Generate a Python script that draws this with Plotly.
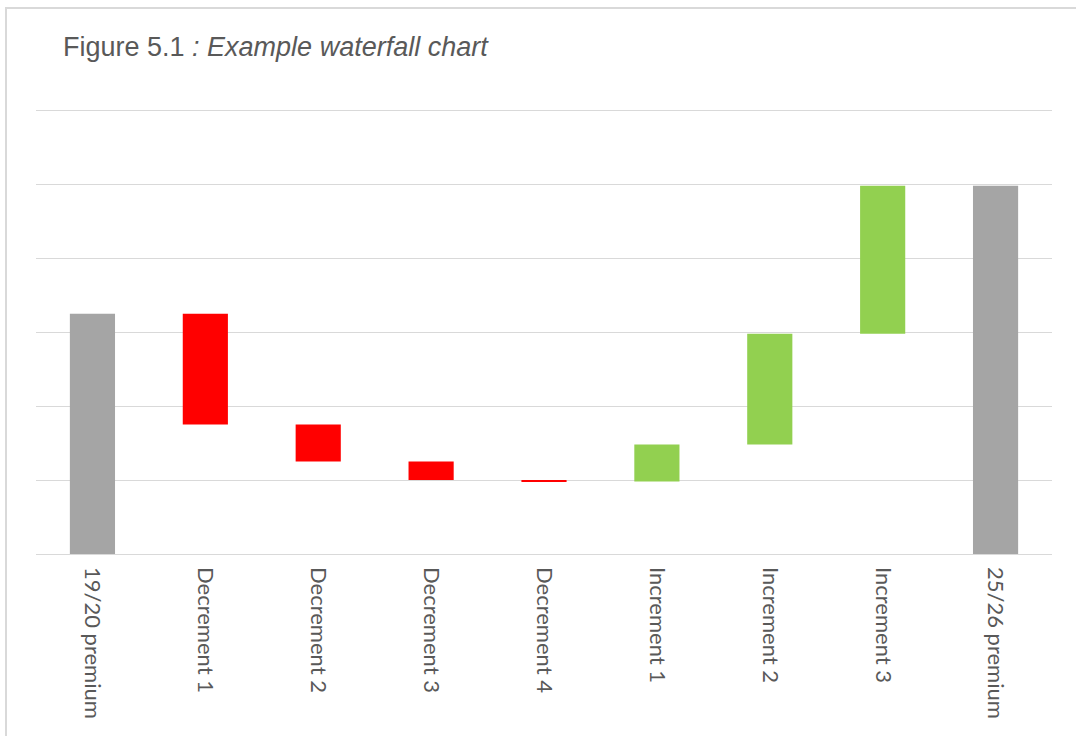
import plotly.graph_objects as go

categories = ["19/20 premium", "Decrement 1", "Decrement 2", "Decrement 3", "Decrement 4",
              "Increment 1", "Increment 2", "Increment 3", "25/26 premium"]
measures = ["absolute", "relative", "relative", "relative", "relative",
            "relative", "relative", "relative", "total"]
values = [3.25, -1.5, -0.5, -0.25, -0.02, 0.5, 1.5, 2.0, 0]
grid_vals = [0, 1, 2, 3, 4, 5, 6]

W, H = 1076, 736
L, R, T, B = 36, 24, 103, 182
pw, ph = W - L - R, H - T - B

def px(x):
    return (x - L) / pw

def py(y):
    return (H - B - y) / ph

fig = go.Figure(go.Waterfall(
    x=categories,
    y=values,
    measure=measures,
    width=0.4,
    connector=dict(visible=False),
    decreasing=dict(marker=dict(color="#FF0000", line=dict(width=0))),
    increasing=dict(marker=dict(color="#92D050", line=dict(width=0))),
    totals=dict(marker=dict(color="#A5A5A5", line=dict(width=0))),
    showlegend=False,
))

fig.update_layout(
    width=W, height=H,
    margin=dict(l=L, r=R, t=T, b=B, pad=0),
    paper_bgcolor="white",
    plot_bgcolor="white",
    title=dict(
        text="Figure 5.1 <i>: Example waterfall chart</i>",
        font=dict(family="Liberation Sans, Arial", size=27, color="#595959"),
        xref="container", yref="container",
        x=63 / W, xanchor="left",
        y=1 - 47 / H, yanchor="middle",
    ),
    xaxis=dict(
        tickangle=90,
        tickfont=dict(family="Lato, Carlito, sans-serif", size=22, color="#595959"),
        ticklabelstandoff=12,
        showgrid=False,
        showline=False,
        ticks="",
        ticklen=0,
    ),
    yaxis=dict(
        range=[0, 6.1],
        tickvals=grid_vals,
        showticklabels=False,
        showgrid=True,
        gridcolor="#D9D9D9",
        gridwidth=1,
        zeroline=True,
        zerolinecolor="#D9D9D9",
        zerolinewidth=1,
        showline=False,
        ticks="",
    ),
    shapes=[dict(
        type="rect", xref="paper", yref="paper",
        x0=px(6), x1=px(1082), y0=py(745), y1=py(8),
        line=dict(color="#D9D9D9", width=2),
        fillcolor="rgba(0,0,0,0)",
        layer="below",
    )],
)

fig.write_html("out.html")
